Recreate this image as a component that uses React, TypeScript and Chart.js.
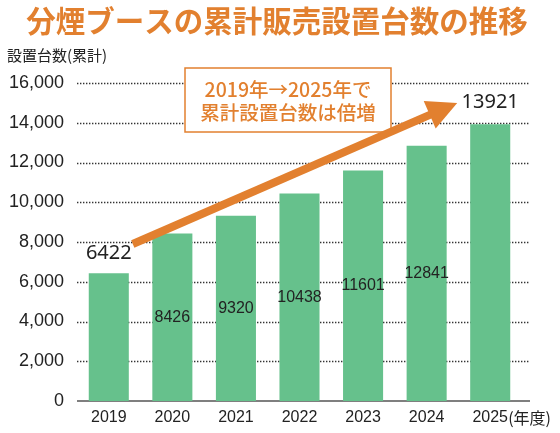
import React, { useEffect, useRef } from "react";
import { Chart, registerables } from "chart.js";

Chart.register(...registerables);

const years = ["2019", "2020", "2021", "2022", "2023", "2024", "2025"];
const installs = [6422, 8426, 9320, 10438, 11601, 12841, 13921];
const yTickValues = [0, 2000, 4000, 6000, 8000, 10000, 12000, 14000, 16000];
const titleText = "分煙ブースの累計販売設置台数の推移";
const yAxisTitle = "設置台数(累計)";
const xAxisUnit = "(年度)";
const noteLines = ["2019年→2025年で", "累計設置台数は倍増"];

const ORANGE = "#e2802f";
const GREEN = "#66c18c";
const TEXT = "#222222";
const NUM_FONT = "'Liberation Sans', Arial, sans-serif";
const CJK_FONT = "'Noto Sans CJK JP', 'Noto Sans', sans-serif";

const decorPlugin = {
  id: "decor",
  beforeDatasetsDraw(chart: any) {
    const { ctx, chartArea, scales } = chart;
    const ys = scales.y;
    ctx.save();
    ctx.strokeStyle = "#333";
    ctx.lineWidth = 1.4;
    ctx.setLineDash([1.4, 1.6]);
    yTickValues.forEach((v) => {
      if (v === 0) return;
      const y = Math.round(ys.getPixelForValue(v)) + 0.5;
      ctx.beginPath();
      ctx.moveTo(chartArea.left, y);
      ctx.lineTo(chartArea.right + 8, y);
      ctx.stroke();
    });
    ctx.setLineDash([]);
    ctx.strokeStyle = "#555";
    ctx.lineWidth = 1.6;
    const y0 = ys.getPixelForValue(0);
    ctx.beginPath();
    ctx.moveTo(chartArea.left, y0);
    ctx.lineTo(chartArea.right + 8, y0);
    ctx.stroke();
    ctx.restore();
  },
  afterDatasetsDraw(chart: any) {
    const { ctx, scales } = chart;
    const xs = scales.x;
    const ys = scales.y;
    ctx.save();

    // annotation box
    const bx = 185, by = 68, bw = 206, bh = 64;
    ctx.fillStyle = "#fff";
    ctx.fillRect(bx, by, bw, bh);
    ctx.strokeStyle = ORANGE;
    ctx.lineWidth = 1.5;
    ctx.strokeRect(bx, by, bw, bh);
    ctx.fillStyle = ORANGE;
    ctx.font = `500 19.5px ${CJK_FONT}`;
    ctx.textAlign = "center";
    ctx.textBaseline = "middle";
    ctx.fillText(noteLines[0], bx + bw / 2, 90);
    ctx.fillText(noteLines[1], bx + bw / 2, 113);

    // arrow
    const sx = xs.getPixelForValue(0) + 24;
    const sy = ys.getPixelForValue(7900);
    const ex = xs.getPixelForValue(years.length - 1) - 33;
    const ey = ys.getPixelForValue(15000);
    const ang = Math.atan2(ey - sy, ex - sx);
    const headLen = 30;
    const headHalf = 15;
    const hx = ex - headLen * Math.cos(ang);
    const hy = ey - headLen * Math.sin(ang);
    ctx.strokeStyle = ORANGE;
    ctx.lineWidth = 8;
    ctx.lineCap = "butt";
    ctx.beginPath();
    ctx.moveTo(sx, sy);
    ctx.lineTo(hx + 2 * Math.cos(ang), hy + 2 * Math.sin(ang));
    ctx.stroke();
    ctx.fillStyle = ORANGE;
    ctx.beginPath();
    ctx.moveTo(ex, ey);
    ctx.lineTo(hx + headHalf * Math.sin(ang), hy - headHalf * Math.cos(ang));
    ctx.lineTo(hx - headHalf * Math.sin(ang), hy + headHalf * Math.cos(ang));
    ctx.closePath();
    ctx.fill();

    // value labels
    ctx.fillStyle = TEXT;
    ctx.textAlign = "center";
    ctx.textBaseline = "middle";
    installs.forEach((v, i) => {
      const x = xs.getPixelForValue(i);
      const top = ys.getPixelForValue(v);
      const base = ys.getPixelForValue(0);
      if (i === 0 || i === installs.length - 1) {
        ctx.font = `20px 'Noto Sans', ${NUM_FONT}`;
        ctx.fillText(String(v), x, top - (i === 0 ? 20 : 22));
      } else {
        ctx.font = `16px ${NUM_FONT}`;
        ctx.fillText(String(v), x, (top + base) / 2);
      }
    });

    // titles
    ctx.fillStyle = ORANGE;
    ctx.font = `bold 29.5px ${CJK_FONT}`;
    ctx.textAlign = "center";
    ctx.fillText(titleText, 277, 21);

    ctx.fillStyle = TEXT;
    ctx.font = `15px ${CJK_FONT}`;
    ctx.textAlign = "left";
    ctx.fillText(yAxisTitle, 7, 55);

    ctx.font = `16px ${CJK_FONT}`;
    ctx.fillText(xAxisUnit, xs.getPixelForValue(years.length - 1) + 18, 418);
    ctx.restore();
  },
};

export default function App() {
  const ref = useRef<HTMLCanvasElement | null>(null);
  useEffect(() => {
    if (!ref.current) return;
    const chart = new Chart(ref.current, {
      type: "bar",
      data: {
        labels: years,
        datasets: [
          {
            data: installs,
            backgroundColor: GREEN,
            borderWidth: 0,
            barPercentage: 0.63,
            categoryPercentage: 1,
          },
        ],
      },
      options: {
        animation: false,
        responsive: false,
        devicePixelRatio: 1,
        layout: { padding: { top: 83, right: 38, left: 0, bottom: 0 } },
        plugins: {
          legend: { display: false },
          tooltip: { enabled: false },
          title: { display: false },
        },
        scales: {
          x: {
            grid: { display: false, drawTicks: false },
            border: { display: false },
            ticks: {
              color: TEXT,
              font: { family: NUM_FONT, size: 16 },
              padding: 7,
              maxRotation: 0,
            },
            afterFit: (axis: any) => {
              axis.height = 32;
            },
          },
          y: {
            min: 0,
            max: 16000,
            grid: { display: false, drawTicks: false },
            border: { display: false },
            afterBuildTicks: (axis: any) => {
              axis.ticks = yTickValues.map((v) => ({ value: v }));
            },
            ticks: {
              color: TEXT,
              font: { family: NUM_FONT, size: 18 },
              padding: 13,
              callback: (v: any) => Number(v).toLocaleString("en-US"),
            },
            afterFit: (axis: any) => {
              axis.width = 77;
            },
          },
        },
      },
      plugins: [decorPlugin],
    });
    return () => chart.destroy();
  }, []);
  return (
    <div style={{ position: "fixed", left: 0, top: 0, width: 560, height: 433, background: "#fff" }}>
      <canvas ref={ref} width={560} height={433} style={{ width: 560, height: 433 }} />
    </div>
  );
}
